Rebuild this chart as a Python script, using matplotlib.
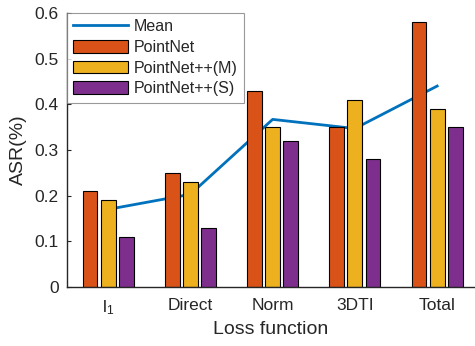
import numpy as np
import matplotlib.pyplot as plt

plt.rcParams['font.family'] = ['Liberation Sans', 'DejaVu Sans']
plt.rcParams['mathtext.fontset'] = 'custom'
plt.rcParams['mathtext.rm'] = 'Liberation Sans'

# data
categories = [r'$\mathregular{l_1}$', 'Direct', 'Norm', '3DTI', 'Total']
pointnet = [0.21, 0.25, 0.43, 0.35, 0.58]
pointnet_m = [0.19, 0.23, 0.35, 0.41, 0.39]
pointnet_s = [0.11, 0.13, 0.32, 0.28, 0.35]
mean_vals = [0.17, 0.203, 0.367, 0.347, 0.44]

fig = plt.figure(figsize=(4.75, 3.46), dpi=100)
ax = fig.add_axes([0.141, 0.1705, 0.859, 0.792])

x = np.arange(1, len(categories) + 1)
w = 0.18
off = 0.22
gray = '#262626'

ax.plot(x, mean_vals, color='#0072BD', lw=2, zorder=1, label='Mean')
ax.bar(x - off, pointnet, w, color='#D95319', edgecolor='black', lw=0.8, zorder=2, label='PointNet')
ax.bar(x, pointnet_m, w, color='#EDB120', edgecolor='black', lw=0.8, zorder=2, label='PointNet++(M)')
ax.bar(x + off, pointnet_s, w, color='#7E2F8E', edgecolor='black', lw=0.8, zorder=2, label='PointNet++(S)')

ax.set_xlim(0.5, 5.46)
ax.set_ylim(0, 0.6)
ax.set_yticks(np.arange(0, 0.61, 0.1))
ax.set_yticklabels(['0', '0.1', '0.2', '0.3', '0.4', '0.5', '0.6'])
ax.set_xticks(x)
ax.set_xticklabels(categories)

ax.spines['top'].set_visible(False)
ax.spines['right'].set_visible(False)
for s in ['left', 'bottom']:
    ax.spines[s].set_color(gray)
    ax.spines[s].set_linewidth(1.0)
ax.tick_params(direction='in', length=3, colors=gray, labelsize=12.5, pad=6)
ax.tick_params(axis='x', pad=8)

ax.set_xlabel('Loss function', fontsize=14, color=gray, labelpad=3)
ax.set_ylabel('ASR(%)', fontsize=14, color=gray, labelpad=5)

leg = ax.legend(loc='upper left', bbox_to_anchor=(0, 1), borderaxespad=0,
                fancybox=False, fontsize=11.5, handlelength=3.4, handleheight=0.85,
                handletextpad=0.4, labelspacing=0.35, borderpad=0.4)
leg.get_frame().set_edgecolor('#808080')
leg.get_frame().set_linewidth(0.8)
for t in leg.get_texts():
    t.set_color(gray)

fig.savefig('out.png', dpi=100)
